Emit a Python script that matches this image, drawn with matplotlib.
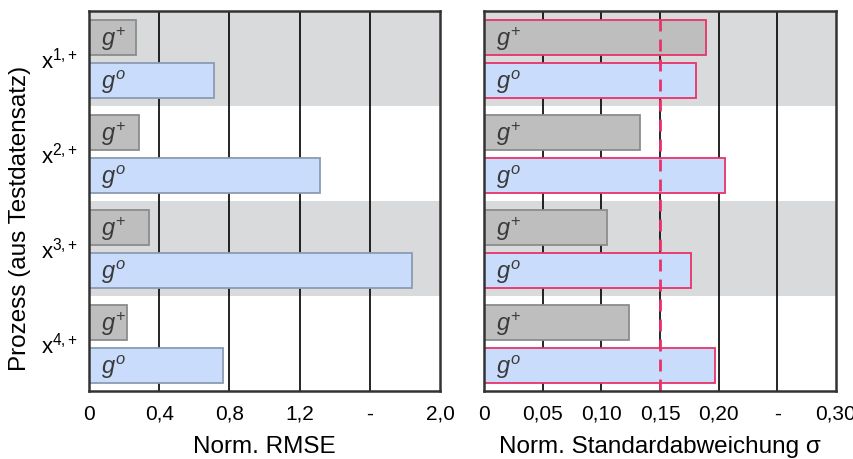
import numpy as np
import matplotlib
matplotlib.use("Agg")
import matplotlib.pyplot as plt

plt.rcParams['font.family'] = ['Liberation Sans', 'DejaVu Sans']
plt.rcParams['mathtext.fontset'] = 'custom'
plt.rcParams['mathtext.rm'] = 'Liberation Sans'
plt.rcParams['mathtext.it'] = 'Liberation Sans:italic'

# Daten
prozesse = [r'x$^{1{,}+}$', r'x$^{2{,}+}$', r'x$^{3{,}+}$', r'x$^{4{,}+}$']
rmse_gplus = [0.27, 0.283, 0.344, 0.214]
rmse_go = [0.712, 1.314, 1.84, 0.761]
std_gplus = [0.189, 0.133, 0.105, 0.124]
std_go = [0.181, 0.205, 0.176, 0.197]
grenze_std = 0.15

rmse_ticks = [0, 0.4, 0.8, 1.2, 1.6, 2.0]
rmse_ticklabels = ['0', '0,4', '0,8', '1,2', '-', '2,0']
std_ticks = [0, 0.05, 0.10, 0.15, 0.20, 0.25, 0.30]
std_ticklabels = ['0', '0,05', '0,10', '0,15', '0,20', '-', '0,30']

farbe_gplus = '#bebebe'
rand_gplus = '#8c8c8c'
farbe_go = '#c9dcfb'
rand_go = '#8b9bb3'
rot = '#e8336a'
band = '#d9dadb'

fig = plt.figure(figsize=(8.54, 4.59), dpi=100)
ax1 = fig.add_axes([89 / 854, 1 - 391 / 459, 351 / 854, 380 / 459])
ax2 = fig.add_axes([484 / 854, 1 - 391 / 459, 352 / 854, 380 / 459])

hoehe = 0.368
off_plus = 0.279
off_o = 0.728


def zeichne(ax, gplus, go, xmax, ticks, ticklabels, xlabel, grenze=None):
    n = len(gplus)
    # graue Hintergrundbänder
    for i in range(n):
        if i % 2 == 0:
            ax.axhspan(i, i + 1, color=band, lw=0, zorder=0)
    for t in ticks[1:-1]:
        ax.axvline(t, color='black', lw=1.2, zorder=1)
    y = np.arange(n)
    for i in range(n):
        ec = rot if (grenze is not None and gplus[i] > grenze) else rand_gplus
        ax.barh(y[i] + off_plus, gplus[i], height=hoehe, color=farbe_gplus,
                edgecolor=ec, lw=1.3, zorder=2)
        ec = rot if (grenze is not None and go[i] > grenze) else rand_go
        ax.barh(y[i] + off_o, go[i], height=hoehe, color=farbe_go,
                edgecolor=ec, lw=1.3, zorder=2)
        tx = xmax * 0.035
        ax.text(tx, y[i] + off_plus + 0.02, r'$g^{+}$', fontsize=17, va='center',
                ha='left', color='#3a3a3a', zorder=4)
        ax.text(tx, y[i] + off_o + 0.02, r'$g^{o}$', fontsize=17, va='center',
                ha='left', color='#3a3a3a', zorder=4)
    if grenze is not None:
        ax.axvline(grenze, color=rot, lw=2, ls=(0, (4.3, 2.9)), zorder=3)
    ax.set_xlim(0, xmax)
    ax.set_ylim(n, 0)
    ax.set_xticks(ticks)
    ax.set_xticklabels(ticklabels, fontsize=15)
    ax.set_xlabel(xlabel, fontsize=17.5, labelpad=9)
    ax.tick_params(axis='x', length=0, pad=10)
    for s in ax.spines.values():
        s.set_linewidth(1.8)
        s.set_color('#333333')
        s.set_zorder(5)


zeichne(ax1, rmse_gplus, rmse_go, 2.0, rmse_ticks, rmse_ticklabels, 'Norm. RMSE')
ax1.set_yticks(np.arange(len(prozesse)) + 0.5)
ax1.set_yticklabels(prozesse, fontsize=16)
ax1.tick_params(axis='y', length=0, pad=8)
ax1.set_ylabel('Prozess (aus Testdatensatz)', fontsize=17.5)
ax1.yaxis.set_label_coords(31 / 854, 1 - 218 / 459, transform=fig.transFigure)

zeichne(ax2, std_gplus, std_go, 0.30, std_ticks, std_ticklabels,
        'Norm. Standardabweichung σ', grenze=grenze_std)
ax2.set_yticks([])

fig.savefig('out.png', dpi=100)
